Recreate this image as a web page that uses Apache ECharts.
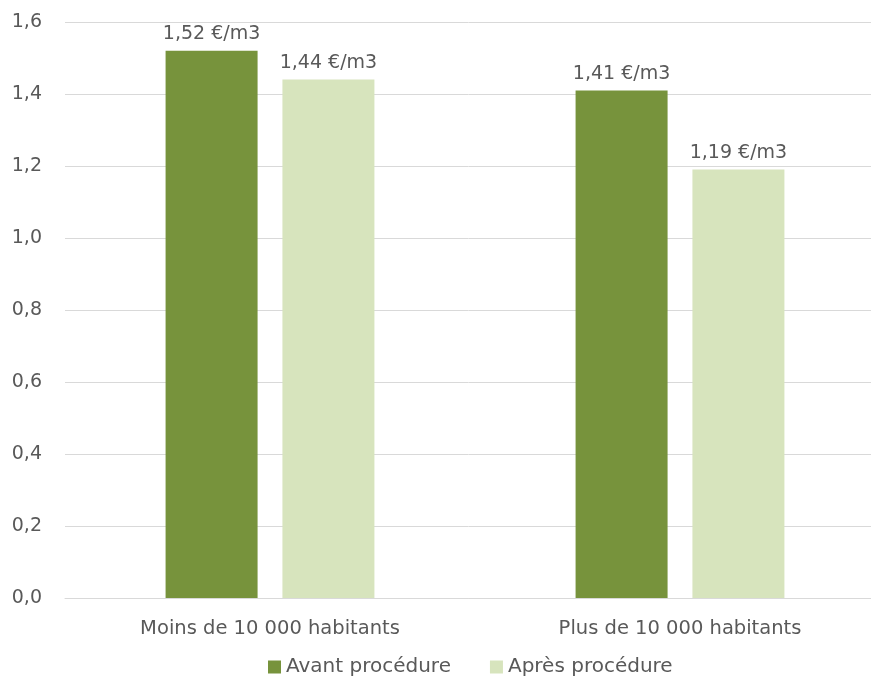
<!DOCTYPE html>
<html><head><meta charset="utf-8">
<script src="https://cdn.jsdelivr.net/npm/echarts@6/dist/echarts.min.js"></script>
<style>html,body{margin:0;padding:0;background:#fff}#c{width:871px;height:678px}</style>
</head><body><div id="c"></div>
<script>
var categories = ['Moins de 10 000 habitants', 'Plus de 10 000 habitants'];
var seriesNames = ['Avant procédure', 'Après procédure'];
var avant = [1.52, 1.41];
var apres = [1.44, 1.19];
var yTicks = [0, 0.2, 0.4, 0.6, 0.8, 1.0, 1.2, 1.4, 1.6];

var font = 'DejaVu Sans';
var txt = '#595959';
function fr(v, d){ return v.toFixed(d).replace('.', ','); }
var chart = echarts.init(document.getElementById('c'));
chart.setOption({
  animation: false,
  textStyle: {fontFamily: font},
  grid: {left: 65, top: 22, width: 820, bottom: 80, containLabel: false, outerBoundsMode: 'none'},
  legend: {
    left: 263, top: 652, itemWidth: 13, itemHeight: 13, itemGap: 39,
    icon: 'rect',
    textStyle: {fontFamily: font, fontSize: 20, color: txt},
    data: seriesNames
  },
  xAxis: {
    type: 'category', data: categories,
    axisLine: {lineStyle: {color: '#d9d9d9', width: 1}},
    axisTick: {show: false},
    axisLabel: {fontFamily: font, fontSize: 19.5, color: txt, margin: 21}
  },
  yAxis: {
    type: 'value', min: yTicks[0], max: yTicks[yTicks.length-1], interval: 0.2,
    axisLine: {show: false}, axisTick: {show: false},
    splitLine: {lineStyle: {color: '#d9d9d9', width: 1}},
    axisLabel: {fontFamily: font, fontSize: 19, color: txt, margin: 23,
      formatter: function(v){ return fr(v, 1); }}
  },
  series: [
    {name: seriesNames[0], type: 'bar', data: avant, barWidth: 92, barGap: '27%',
     itemStyle: {color: '#77933c'},
     label: {show: true, position: 'top', distance: 7, fontFamily: font, fontSize: 19, color: txt,
       formatter: function(p){ return fr(p.value, 2) + ' €/m3'; }}},
    {name: seriesNames[1], type: 'bar', data: apres, barWidth: 92,
     itemStyle: {color: '#d7e4bd'},
     label: {show: true, position: 'top', distance: 7, fontFamily: font, fontSize: 19, color: txt,
       formatter: function(p){ return fr(p.value, 2) + ' €/m3'; }}}
  ]
});
</script></body></html>
